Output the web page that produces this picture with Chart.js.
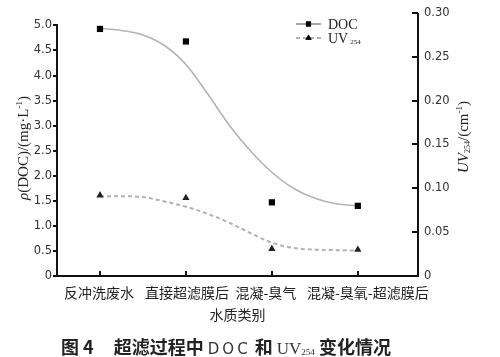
<!DOCTYPE html>
<html><head><meta charset="utf-8">
<script src="https://cdn.jsdelivr.net/npm/chart.js@4/dist/chart.umd.min.js"></script>
<style>
html,body{margin:0;padding:0;background:#fff;}
#wrap{position:relative;width:500px;height:357px;overflow:hidden;}
#c{position:absolute;left:0;top:0;}
#cap{position:absolute;left:61px;top:336px;white-space:nowrap;color:#222;font-family:"Noto Sans CJK SC";font-size:18px;line-height:20px;font-weight:bold;}
#cap .lat{font-family:"DejaVu Sans";font-weight:normal;font-size:15px;letter-spacing:3px;color:#333;margin-right:4px;}
#cap .uv{font-family:"Liberation Serif";font-weight:normal;font-size:17px;color:#333;}
#cap sub{font-size:9px;vertical-align:-1px;}
</style></head><body>
<div id="wrap"><canvas id="c" width="500" height="357"></canvas>
<div id="cap">图 4<span style="margin-left:20px">超滤过程中</span> <span class="lat">DOC</span>和 <span class="uv">UV<sub>254</sub></span> 变化情况</div>
</div>
<script>
// ---- data ----
const categories = ['反冲洗废水', '直接超滤膜后', '混凝-臭气', '混凝-臭氧-超滤膜后'];
const docValues = [4.93, 4.68, 1.47, 1.40];
const uvValues = [0.092, 0.089, 0.031, 0.030];
// fitted trend curves at these category positions
const fitX = [0, 0.25, 0.5, 0.75, 1, 1.25, 1.5, 1.75, 2, 2.25, 2.5, 2.75, 3];
const docFit = [4.94, 4.90, 4.81, 4.60, 4.22, 3.64, 3.02, 2.50, 2.07, 1.75, 1.55, 1.44, 1.40];
const uvFit = [0.091, 0.091, 0.090, 0.085, 0.079, 0.071, 0.061, 0.049, 0.038, 0.032, 0.030, 0.0295, 0.029];
const leftTicks = [0, 0.5, 1.0, 1.5, 2.0, 2.5, 3.0, 3.5, 4.0, 4.5, 5.0];
const rightTicks = [0, 0.05, 0.10, 0.15, 0.20, 0.25, 0.30];

const labelShift = [-1, 1, -6, 10];

const axesPlugin = {
  id: 'axesDraw',
  beforeDraw(chart) {
    const xs = chart.scales.x;
    const items = xs.getLabelItems(chart.chartArea);
    items.forEach((it, i) => { if (!it._shifted) { it.options.translation[0] += labelShift[i] || 0; it._shifted = true; } });
  },
  beforeDatasetsDraw(chart) {
    const {ctx, chartArea: ca, scales} = chart;
    const x = scales.x, yL = scales.yL, yR = scales.yR;
    ctx.save();
    ctx.strokeStyle = '#111';
    ctx.lineWidth = 2;
    ctx.beginPath();
    const top5 = yL.getPixelForValue(5);
    ctx.moveTo(ca.left, top5 - 1); ctx.lineTo(ca.left, ca.bottom);
    ctx.moveTo(ca.left - 1, ca.bottom); ctx.lineTo(ca.right + 1, ca.bottom);
    ctx.moveTo(ca.right, ca.top); ctx.lineTo(ca.right, ca.bottom);
    leftTicks.forEach(v => { const y = Math.round(yL.getPixelForValue(v)); ctx.moveTo(ca.left - 4, y); ctx.lineTo(ca.left + 1, y); });
    rightTicks.forEach(v => { const y = Math.round(yR.getPixelForValue(v)); ctx.moveTo(ca.right - 6, y); ctx.lineTo(ca.right, y); });
    categories.forEach((c, i) => { const px = Math.round(x.getPixelForValue(i)); ctx.moveTo(px, ca.bottom); ctx.lineTo(px, ca.bottom - 5); });
    ctx.stroke();
    ctx.restore();
  },
  afterDraw(chart) {
    const {ctx, chartArea: ca} = chart;
    ctx.save();
    ctx.fillStyle = '#222';
    function drawRich(cx, cy, segs) {
      ctx.textBaseline = 'alphabetic';
      let total = 0;
      segs.forEach(s => { ctx.font = s.font; s.w = ctx.measureText(s.t).width; total += s.w; });
      let px = cx - total / 2;
      segs.forEach(s => { ctx.font = s.font; ctx.fillText(s.t, px, cy + (s.dy || 0)); px += s.w; });
    }
    // left axis title
    ctx.save();
    ctx.translate(28, 148);
    ctx.rotate(-Math.PI / 2);
    drawRich(0, 0, [
      {t: 'ρ', font: 'italic 15px "Liberation Serif"'},
      {t: '(DOC)/(mg·L', font: '15px "Liberation Serif"'},
      {t: '-1', font: '9px "Liberation Serif"', dy: -6},
      {t: ')', font: '15px "Liberation Serif"'}
    ]);
    ctx.restore();
    // right axis title
    ctx.save();
    ctx.translate(468, 137);
    ctx.rotate(-Math.PI / 2);
    drawRich(0, 0, [
      {t: 'UV', font: 'italic 15px "Liberation Serif"'},
      {t: '254', font: '8px "Liberation Serif"', dy: 2},
      {t: '/(cm', font: '15px "Liberation Serif"'},
      {t: '-1', font: '9px "Liberation Serif"', dy: -6},
      {t: ')', font: '15px "Liberation Serif"'}
    ]);
    ctx.restore();
    // x axis title
    ctx.font = '14px "Noto Sans CJK SC"';
    ctx.textAlign = 'center';
    ctx.textBaseline = 'middle';
    ctx.fillText('水质类别', (ca.left + ca.right) / 2, 315);
    // legend
    const entries = [
      {ds: chart.data.datasets[0], line: chart.data.datasets[2], y: 24},
      {ds: chart.data.datasets[1], line: chart.data.datasets[3], y: 38}
    ];
    ctx.textAlign = 'left';
    entries.forEach((e, i) => {
      ctx.save();
      ctx.strokeStyle = '#666';
      ctx.lineWidth = 1.2;
      ctx.setLineDash(e.line.borderDash || []);
      ctx.beginPath(); ctx.moveTo(296, e.y); ctx.lineTo(321, e.y); ctx.stroke();
      ctx.restore();
      Chart.helpers.drawPoint(ctx, {pointStyle: e.ds.pointStyle, radius: 3.6, borderWidth: 0}, 308.5, e.y);
      ctx.fillStyle = '#000';
      ctx.fill();
      ctx.fillStyle = '#222';
      ctx.textBaseline = 'middle';
      ctx.font = '14px "Liberation Serif"';
      if (i === 0) {
        ctx.fillText(e.ds.label, 328, e.y + 1);
      } else {
        ctx.fillText('UV', 328, e.y + 1);
        const w = ctx.measureText('UV').width;
        ctx.font = '7px "Liberation Serif"';
        ctx.fillText('254', 328 + w + 2, e.y + 4);
      }
    });
    ctx.restore();
  }
};

const pts = (vals) => vals.map((v, i) => ({x: i, y: v}));
const fit = (vals) => fitX.map((x, i) => ({x: x, y: vals[i]}));

new Chart(document.getElementById('c'), {
  type: 'line',
  data: {
    datasets: [
      {label: 'DOC', data: pts(docValues), yAxisID: 'yL', showLine: false, pointStyle: 'rect', pointRadius: 4.4, pointBackgroundColor: '#000', pointBorderWidth: 0, order: 0},
      {label: 'UV254', data: pts(uvValues), yAxisID: 'yR', showLine: false, pointStyle: 'triangle', pointRadius: 4.2, pointBackgroundColor: '#222', pointBorderWidth: 0, order: 1},
      {label: 'DOC fit', data: fit(docFit), yAxisID: 'yL', borderColor: '#b3b3b3', borderWidth: 1.6, pointRadius: 0, cubicInterpolationMode: 'monotone', fill: false, order: 2},
      {label: 'UV fit', data: fit(uvFit), yAxisID: 'yR', borderColor: '#b3b3b3', borderWidth: 2, borderDash: [4, 3], pointRadius: 0, cubicInterpolationMode: 'monotone', fill: false, order: 3}
    ]
  },
  options: {
    responsive: false,
    animation: false,
    events: [],
    layout: {padding: {top: 6, left: 0, right: 0, bottom: 0}},
    plugins: {legend: {display: false}, tooltip: {enabled: false}, title: {display: false}},
    scales: {
      x: {
        type: 'linear', min: -0.5, max: 3.7,
        grid: {display: false, drawTicks: false}, border: {display: false},
        afterBuildTicks: (s) => { s.ticks = categories.map((c, i) => ({value: i})); },
        afterFit: (s) => { s.height = 81; },
        ticks: {
          autoSkip: false, maxRotation: 0, padding: 8,
          font: {family: '"Noto Sans CJK SC"', size: 14}, color: '#222',
          callback: (v) => categories[v]
        }
      },
      yL: {
        type: 'linear', position: 'left', min: 0, max: 5.25,
        grid: {display: false, drawTicks: false}, border: {display: false},
        afterBuildTicks: (s) => { s.ticks = leftTicks.map(v => ({value: v})); },
        afterFit: (s) => { s.width = 57; },
        ticks: {padding: 5, font: {family: '"DejaVu Sans"', size: 11.5}, color: '#333',
          callback: (v) => v === 0 ? '0' : v.toFixed(1)}
      },
      yR: {
        type: 'linear', position: 'right', min: 0, max: 0.30,
        grid: {display: false, drawTicks: false}, border: {display: false},
        afterBuildTicks: (s) => { s.ticks = rightTicks.map(v => ({value: v})); },
        afterFit: (s) => { s.width = 82; },
        ticks: {padding: 6, font: {family: '"DejaVu Sans"', size: 11.5}, color: '#333',
          callback: (v) => v === 0 ? '0' : v.toFixed(2)}
      }
    }
  },
  plugins: [axesPlugin]
});
</script>
</body></html>
